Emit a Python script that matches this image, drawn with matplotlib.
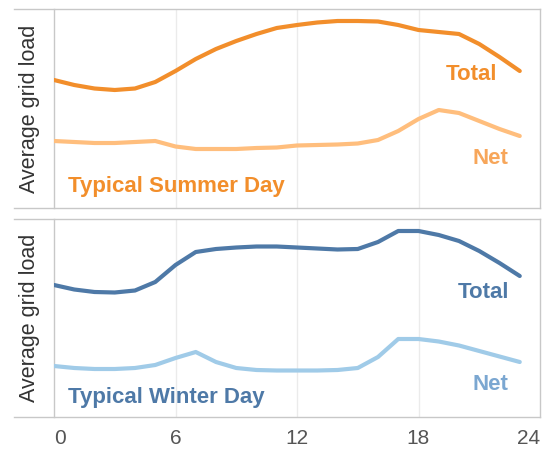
import matplotlib
matplotlib.use("Agg")
import matplotlib.pyplot as plt
from matplotlib.lines import Line2D

plt.rcParams['font.family'] = ['Liberation Sans', 'DejaVu Sans']

hours = list(range(24))
summer_total = [128, 123, 119.5, 118, 119.5, 126, 137, 149, 159, 167, 174, 180,
                183, 185.5, 187, 187, 186.5, 183, 178, 176, 174, 164, 151, 137]
summer_net = [67, 66, 65, 65, 66, 67, 61.5, 59, 59, 59, 60, 60.5,
              62.5, 63, 63.5, 64.5, 68, 77, 89, 98, 95, 87, 79, 72]
winter_total = [132, 127.5, 125, 124.5, 126.5, 135, 152, 165, 168, 169.5, 170.5, 170.5,
                169.5, 168.5, 167.5, 168, 175, 186, 186, 182, 176, 166, 154, 141]
winter_net = [51, 49, 48, 48, 49, 52, 59, 65, 55, 49, 47, 46.5,
              46.5, 46.5, 47, 49, 60, 78, 78, 75.5, 71.5, 66, 60.5, 55]
x_ticks = [0, 6, 12, 18, 24]
panel_titles = ["Typical Summer Day", "Typical Winter Day"]
y_label = "Average grid load"

W, H = 543, 449
fig = plt.figure(figsize=(W / 100, H / 100), dpi=100)

def fx(px):
    return px / W

def fy(py):
    return 1 - py / H

border = "#C8C8C8"
grid_c = "#EBEBEB"

panels = [
    dict(top=9, bottom=208, total=summer_total, net=summer_net,
         c_total="#F28E2B", c_net="#FFBE7D", t_net="#F7A65A",
         title=panel_titles[0], total_lbl=(472, 74), net_lbl=(490, 158), title_y=187),
    dict(top=219, bottom=417, total=winter_total, net=winter_net,
         c_total="#4E79A7", c_net="#A0CBE8", t_net="#7BA7D1",
         title=panel_titles[1], total_lbl=(483, 292), net_lbl=(490, 385), title_y=397),
]

left_px, right_px = 54, 540
axes = []
for i, p in enumerate(panels):
    top, bot = p["top"], p["bottom"]
    ax = fig.add_axes([fx(left_px), fy(bot), fx(right_px - left_px), (bot - top) / H])
    ylim_hi = bot - top
    ax.set_xlim(0, 24)
    ax.set_ylim(0, ylim_hi)
    for xv in [6, 12, 18]:
        ax.axvline(xv, color=grid_c, lw=1.0, zorder=0)
    ax.plot(hours, p["total"], color=p["c_total"], lw=3.0, solid_capstyle='round', zorder=3)
    ax.plot(hours, p["net"], color=p["c_net"], lw=3.0, solid_capstyle='round', zorder=3)
    for s in ["top", "bottom"]:
        ax.spines[s].set_visible(False)
    ax.spines["left"].set_color(border)
    ax.spines["right"].set_color(border)
    ax.spines["left"].set_linewidth(1.0)
    ax.spines["right"].set_linewidth(1.0)
    ax.set_yticks([])
    ax.set_xticks(x_ticks)
    ax.tick_params(axis='x', length=0, pad=9, labelsize=15, labelcolor="#555555")
    if i == 0:
        ax.tick_params(axis='x', labelbottom=False)
    else:
        ax.set_xticklabels([str(t) for t in x_ticks])
        lbls = ax.get_xticklabels()
        lbls[0].set_ha('left')
        lbls[-1].set_ha('right')
    ax.set_ylabel(y_label, fontsize=15.5, color="#333333")
    ax.yaxis.set_label_coords((40 - left_px) / (right_px - left_px), 0.5)
    for yy in [top, bot]:
        fig.add_artist(Line2D([fx(14), fx(right_px)], [fy(yy), fy(yy)], color=border, lw=1.0))
    fig.text(fx(p["total_lbl"][0]), fy(p["total_lbl"][1]), "Total", color=p["c_total"],
             fontsize=16, fontweight='bold', ha='center', va='center')
    fig.text(fx(p["net_lbl"][0]), fy(p["net_lbl"][1]), "Net", color=p["t_net"],
             fontsize=16, fontweight='bold', ha='center', va='center')
    fig.text(fx(68), fy(p["title_y"]), p["title"], color=p["c_total"],
             fontsize=16, fontweight='bold', ha='left', va='center')
    axes.append(ax)

fig.savefig("out.png", dpi=100)
